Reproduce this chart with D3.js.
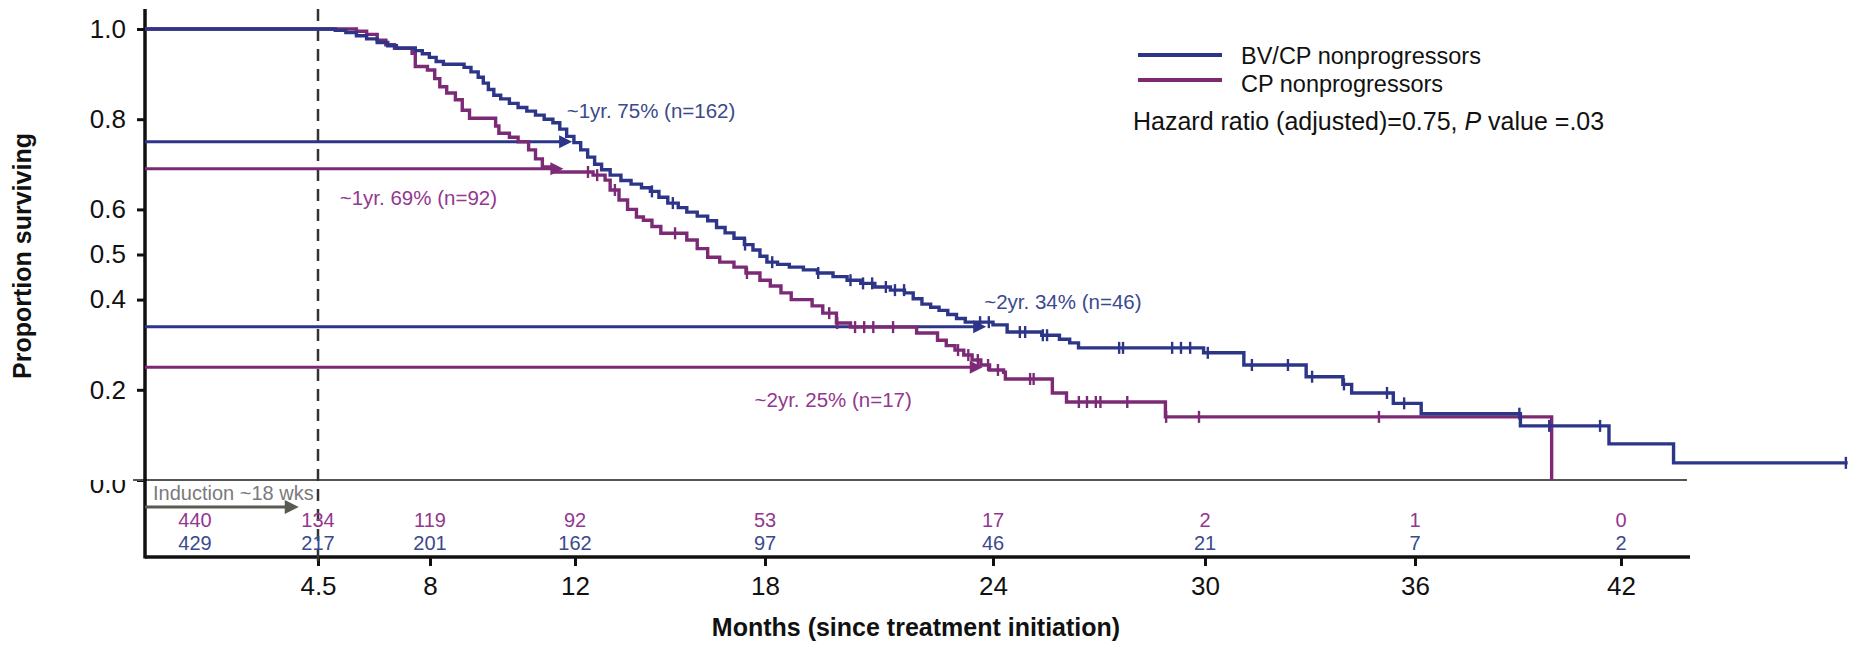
<!DOCTYPE html>
<html>
<head>
<meta charset="utf-8">
<script src="https://cdn.jsdelivr.net/npm/d3@7/dist/d3.min.js"></script>
<style>
  html, body { margin: 0; padding: 0; background: #fff; }
  svg { display: block; font-family: "Liberation Sans", Arial, Helvetica, sans-serif; }
</style>
</head>
<body>
<svg id="chart" width="1854" height="647"></svg>
<script>
// ---- data -------------------------------------------------------------
const yTicks = [0, 0.2, 0.4, 0.5, 0.6, 0.8, 1.0];
const xTicks = [4.5, 8, 12, 18, 24, 30, 36, 42];

const riskTimes = [0, 4.5, 8, 12, 18, 24, 30, 36, 42];
const riskCP = [440, 134, 119, 92, 53, 17, 2, 1, 0];
const riskBV = [429, 217, 201, 162, 97, 46, 21, 7, 2];

// Kaplan-Meier step points (months, proportion surviving)
const bvTime = [0, 5.04, 5.37, 5.70, 6.02, 6.35, 6.68, 6.95, 7.54, 7.76, 7.98, 8.17, 8.37, 8.94, 9.13, 9.33, 9.47,
  9.61, 9.76, 9.95, 10.19, 10.43, 10.67, 10.91, 11.15, 11.39, 11.58, 11.77, 11.97, 12.18, 12.40, 12.62, 12.84, 13.11,
  13.45, 13.77, 14.10, 14.38, 14.65, 14.93, 15.26, 15.53, 15.86, 16.19, 16.47, 16.74, 17.02, 17.35, 17.62, 17.84,
  18.05, 18.33, 18.64, 19.01, 19.38, 19.79, 20.16, 20.52, 20.89, 21.30, 21.67, 21.90, 22.13, 22.36, 22.58, 22.81,
  23.04, 23.27, 24.0, 24.40, 25.38, 25.88, 26.17, 26.42, 29.96, 31.11, 32.89, 33.94, 34.19, 35.38, 36.18, 39.07,
  41.65, 43.47, 48.34];
const bvSurv = [1.0, 0.997, 0.992, 0.985, 0.978, 0.970, 0.963, 0.958, 0.952, 0.945, 0.937, 0.928, 0.922, 0.915, 0.905,
  0.893, 0.880, 0.866, 0.853, 0.845, 0.835, 0.826, 0.818, 0.809, 0.800, 0.792, 0.778, 0.762, 0.748, 0.732, 0.716, 0.700,
  0.688, 0.676, 0.664, 0.656, 0.648, 0.640, 0.627, 0.614, 0.604, 0.594, 0.585, 0.575, 0.560, 0.548, 0.536, 0.522, 0.510,
  0.496, 0.483, 0.478, 0.472, 0.466, 0.459, 0.451, 0.443, 0.436, 0.428, 0.421, 0.415, 0.402, 0.390, 0.383, 0.376, 0.367,
  0.358, 0.350, 0.344, 0.328, 0.321, 0.312, 0.304, 0.293, 0.282, 0.255, 0.229, 0.212, 0.193, 0.170, 0.147, 0.120, 0.080,
  0.038, 0.038];

const cpTime = [0, 5.70, 6.02, 6.35, 6.62, 6.89, 7.44, 7.54, 7.92, 8.13, 8.27, 8.46, 8.70, 8.89, 9.09, 9.81, 9.90,
  10.19, 10.43, 10.72, 10.91, 11.10, 11.44, 12.57, 12.95, 13.11, 13.39, 13.66, 13.94, 14.16, 14.43, 14.71, 15.53,
  15.86, 16.19, 16.57, 17.02, 17.40, 17.84, 18.14, 18.42, 18.69, 19.24, 19.52, 19.88, 20.25, 21.99, 22.54, 22.77,
  23.00, 23.23, 23.45, 23.68, 23.91, 24.30, 24.35, 25.68, 26.08, 28.88, 39.98];
const cpSurv = [1.0, 0.995, 0.988, 0.975, 0.965, 0.957, 0.946, 0.917, 0.909, 0.890, 0.872, 0.858, 0.843, 0.820, 0.802,
  0.785, 0.769, 0.760, 0.750, 0.732, 0.712, 0.694, 0.683, 0.676, 0.665, 0.643, 0.621, 0.600, 0.583, 0.576, 0.562, 0.547,
  0.532, 0.513, 0.494, 0.483, 0.472, 0.459, 0.443, 0.430, 0.415, 0.400, 0.386, 0.370, 0.348, 0.339, 0.326, 0.310, 0.298,
  0.288, 0.277, 0.266, 0.255, 0.244, 0.239, 0.224, 0.193, 0.173, 0.140, 0.0];

// censoring times (months)
const bvCensor = [14.43, 15.09, 17.37, 18.19, 19.40, 20.25, 20.58, 20.82, 21.18, 21.42, 21.66, 23.66, 23.89, 24.76,
  24.91, 25.41, 25.53, 27.57, 27.68, 29.07, 29.32, 29.58, 30.08, 31.34, 32.37, 33.06, 33.97, 35.20, 35.69, 39.04,
  39.91, 41.39, 48.29];
const cpCensor = [12.41, 12.70, 13.26, 15.16, 17.43, 19.69, 19.90, 20.37, 20.61, 20.85, 21.37, 23.08, 23.35, 23.60,
  23.87, 24.14, 25.05, 25.15, 26.43, 26.66, 26.91, 27.04, 27.80, 28.90, 29.83, 34.97];

// landmark survival arrows
const markLabels = ["~1yr. 75% (n=162)", "~1yr. 69% (n=92)", "~2yr. 34% (n=46)", "~2yr. 25% (n=17)"];
const markValues = [0.75, 0.69, 0.34, 0.25];
const markEnds = [11.92, 11.68, 23.82, 23.73];
const markGroup = ["bv", "cp", "bv", "cp"];

const legendLabels = ["BV/CP nonprogressors", "CP nonprogressors"];
const inductionEnd = 4.0;
const inductionMark = 4.5;

// ---- layout -------------------------------------------------------------
const color = { bv: "#2d3589", cp: "#7c2a76" };
const textColor = { bv: "#3a4a8e", cp: "#93378f" };
const svg = d3.select("#chart");

// the printed month ticks are not evenly spaced, so the axis is piecewise linear
const x = d3.scaleLinear()
  .domain([0, 4.5, 8, 12, 18, 24, 30, 36, 42, 43.93])
  .range([145, 318, 430, 575, 765, 993, 1205, 1415, 1621, 1690]);
const y = d3.scaleLinear().domain([0, 1]).range([480, 29]);
const axisBottomY = 557;
const x0 = x.range()[0];
const xEnd = x.range()[x.range().length - 1];

// y axis
const yAxis = d3.axisLeft(y).tickValues(yTicks).tickFormat(d3.format(".1f")).tickSize(8).tickPadding(11);
const gy = svg.append("g").attr("transform", `translate(${x0},0)`).call(yAxis);
gy.select(".domain").remove();
gy.selectAll(".tick line").attr("stroke", "#111").attr("stroke-width", 3);
gy.selectAll(".tick text").attr("font-size", 26).attr("fill", "#111").attr("font-family", "Liberation Sans, Arial, sans-serif");
// the 0.0 label sits low and is partly hidden above the baseline
gy.append("clipPath").attr("id", "zeroClip")
  .append("rect").attr("x", -x0).attr("y", y(0)).attr("width", x0).attr("height", 40);
gy.selectAll(".tick").filter(d => d === 0).each(function () {
  const lbl = d3.select(this).select("text");
  gy.append("text").attr("x", lbl.attr("x")).attr("y", y(0) + 5).attr("dy", lbl.attr("dy"))
    .attr("font-size", 26).attr("fill", "#111").attr("text-anchor", "end")
    .attr("font-family", "Liberation Sans, Arial, sans-serif")
    .attr("clip-path", "url(#zeroClip)").text(lbl.text());
  lbl.remove();
});

// zero reference line
svg.append("line").attr("x1", x0 - 12).attr("x2", xEnd - 3).attr("y1", y(0)).attr("y2", y(0))
  .attr("stroke", "#555").attr("stroke-width", 2.2);

// x axis
const xAxis = d3.axisBottom(x).tickValues(xTicks).tickFormat(d => d).tickSize(9).tickPadding(11);
const gx = svg.append("g").attr("transform", `translate(0,${axisBottomY})`).call(xAxis);
gx.select(".domain").remove();
gx.selectAll(".tick line").attr("stroke", "#111").attr("stroke-width", 3);
gx.selectAll(".tick text").attr("font-size", 26).attr("fill", "#111").attr("font-family", "Liberation Sans, Arial, sans-serif");

// axis frame lines
svg.append("line").attr("x1", x0).attr("x2", x0).attr("y1", 9).attr("y2", axisBottomY + 1.5)
  .attr("stroke", "#111").attr("stroke-width", 3.5);
svg.append("line").attr("x1", x0).attr("x2", xEnd).attr("y1", axisBottomY).attr("y2", axisBottomY)
  .attr("stroke", "#111").attr("stroke-width", 3.5);

// axis titles
svg.append("text").attr("transform", `translate(31,256) rotate(-90)`)
  .attr("text-anchor", "middle").attr("font-size", 25).attr("font-weight", "bold").attr("fill", "#111")
  .text("Proportion surviving");
svg.append("text").attr("x", 916).attr("y", 636).attr("text-anchor", "middle")
  .attr("font-size", 25).attr("font-weight", "bold").attr("fill", "#111")
  .text("Months (since treatment initiation)");

// induction period marker
svg.append("line").attr("x1", x(inductionMark)).attr("x2", x(inductionMark)).attr("y1", 9).attr("y2", axisBottomY + 10)
  .attr("stroke", "#333").attr("stroke-width", 2.5).attr("stroke-dasharray", "12,8");
svg.append("text").attr("x", x0 + 8).attr("y", 500).attr("font-size", 20).attr("fill", "#7a7a7a")
  .text("Induction ~18 wks");
svg.append("line").attr("x1", x0).attr("x2", x(inductionEnd) - 10).attr("y1", 507).attr("y2", 507)
  .attr("stroke", "#5a5a50").attr("stroke-width", 3);
svg.append("path")
  .attr("d", `M${x(inductionEnd)},507 L${x(inductionEnd) - 14},500 L${x(inductionEnd) - 14},514 Z`)
  .attr("fill", "#5a5a50");

// numbers at risk (the entry column sits just inside the axis)
const riskX = t => (t === 0 ? x(0) + 50 : x(t));
svg.append("g").selectAll("text").data(riskTimes).join("text")
  .attr("x", riskX).attr("y", 527).attr("text-anchor", "middle").attr("font-size", 20)
  .attr("fill", textColor.cp).text((d, i) => riskCP[i]);
svg.append("g").selectAll("text").data(riskTimes).join("text")
  .attr("x", riskX).attr("y", 550).attr("text-anchor", "middle").attr("font-size", 20)
  .attr("fill", textColor.bv).text((d, i) => riskBV[i]);

// landmark arrows
const markIdx = d3.range(markLabels.length);
const labelOffsets = [[11.77, -24], [5.18, 36], [23.77, -18], [17.67, 40]];
markIdx.forEach(i => {
  const g = markGroup[i];
  const yy = y(markValues[i]);
  const xe = x(markEnds[i]);
  svg.append("line").attr("x1", x0).attr("x2", xe - 8).attr("y1", yy).attr("y2", yy)
    .attr("stroke", color[g]).attr("stroke-width", 3);
  svg.append("path").attr("d", `M${xe},${yy} L${xe - 13},${yy - 6.5} L${xe - 13},${yy + 6.5} Z`)
    .attr("fill", color[g]);
  svg.append("text").attr("x", x(labelOffsets[i][0])).attr("y", yy + labelOffsets[i][1])
    .attr("font-size", 20.5).attr("fill", textColor[g]).text(markLabels[i]);
});

// survival curves
const line = d3.line().x(d => x(d[0])).y(d => y(d[1])).curve(d3.curveStepAfter);
const cpPts = cpTime.map((t, i) => [t, cpSurv[i]]);
const bvPts = bvTime.map((t, i) => [t, bvSurv[i]]);
const survAt = (pts, t) => { let s = pts[0][1]; for (const p of pts) { if (p[0] <= t) s = p[1]; else break; } return s; };

function drawCurve(pts, censor, key) {
  svg.append("path").datum(pts).attr("d", line).attr("fill", "none")
    .attr("stroke", color[key]).attr("stroke-width", 3.4).attr("stroke-linejoin", "miter");
  svg.append("g").selectAll("line").data(censor).join("line")
    .attr("x1", d => x(d)).attr("x2", d => x(d))
    .attr("y1", d => y(survAt(pts, d)) - 6).attr("y2", d => y(survAt(pts, d)) + 6)
    .attr("stroke", color[key]).attr("stroke-width", 2.4);
}
drawCurve(cpPts, cpCensor, "cp");
drawCurve(bvPts, bvCensor, "bv");

// legend
const legendY = [55, 80];
const legendTextY = [64, 92];
["bv", "cp"].forEach((k, i) => {
  svg.append("line").attr("x1", 1138).attr("x2", 1222).attr("y1", legendY[i]).attr("y2", legendY[i])
    .attr("stroke", color[k]).attr("stroke-width", 4);
  svg.append("text").attr("x", 1241).attr("y", legendTextY[i]).attr("font-size", 23.5).attr("fill", "#111")
    .text(legendLabels[i]);
});
const hr = svg.append("text").attr("x", 1133).attr("y", 130).attr("font-size", 25).attr("fill", "#111");
hr.append("tspan").text("Hazard ratio (adjusted)=0.75, ");
hr.append("tspan").attr("font-style", "italic").text("P");
hr.append("tspan").text(" value =.03");
</script>
</body>
</html>
